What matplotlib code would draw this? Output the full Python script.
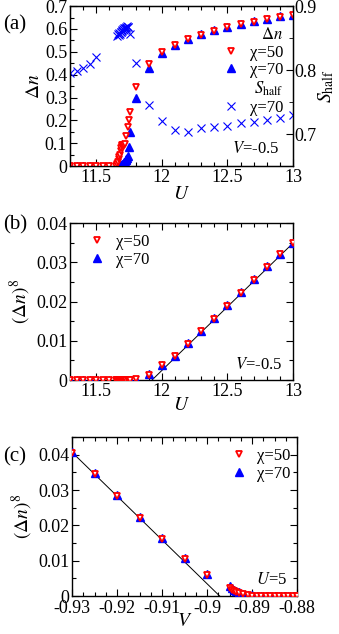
import numpy as np
import matplotlib
matplotlib.use('Agg')
import matplotlib.pyplot as plt
from matplotlib.ticker import MultipleLocator, FuncFormatter

plt.rcParams['font.family'] = 'serif'
plt.rcParams['font.serif'] = ['Liberation Serif', 'DejaVu Serif']
plt.rcParams['mathtext.fontset'] = 'stix'

# ---- (a) Delta n and S_half vs U, V=-0.5 ----
U_50 = [11.3, 11.35, 11.4, 11.45, 11.5, 11.55, 11.6, 11.65,
        11.66, 11.665, 11.67, 11.675, 11.68, 11.685, 11.69, 11.695, 11.7,
        11.705, 11.71, 11.715, 11.72, 11.73, 11.74, 11.75, 11.76,
        11.8, 11.9, 12.0, 12.1, 12.2, 12.3, 12.4, 12.5, 12.6, 12.7, 12.8, 12.9, 13.0]
dn_50 = [0, 0, 0, 0, 0, 0, 0, 0,
         0.01, 0.02, 0.03, 0.04, 0.05, 0.065, 0.08, 0.09, 0.092,
         0.092, 0.092, 0.092, 0.095, 0.13, 0.17, 0.20, 0.235,
         0.345, 0.445, 0.50, 0.53, 0.555, 0.575, 0.592, 0.607, 0.62, 0.632, 0.642, 0.652, 0.66]

U_70 = [11.3, 11.35, 11.4, 11.45, 11.5,
        11.66, 11.665, 11.67, 11.675, 11.68, 11.685, 11.69, 11.695, 11.7,
        11.705, 11.71, 11.715, 11.72, 11.725, 11.73, 11.735, 11.74, 11.75, 11.76,
        11.8, 11.9, 12.0, 12.1, 12.2, 12.3, 12.4, 12.5, 12.6, 12.7, 12.8, 12.9, 13.0]
dn_70 = [0, 0, 0, 0, 0,
         0, 0, 0, 0, 0, 0.002, 0.004, 0.006, 0.008,
         0.01, 0.013, 0.016, 0.02, 0.025, 0.03, 0.037, 0.045, 0.085, 0.15,
         0.30, 0.43, 0.495, 0.53, 0.557, 0.578, 0.595, 0.61, 0.623, 0.634, 0.645, 0.655, 0.662]

U_s = [11.3, 11.35, 11.4, 11.45, 11.5,
       11.66, 11.665, 11.67, 11.675, 11.68, 11.685, 11.69, 11.695, 11.7,
       11.705, 11.71, 11.715, 11.72, 11.725, 11.73, 11.735, 11.74, 11.745, 11.755,
       11.8, 11.9, 12.0, 12.1, 12.2, 12.3, 12.4, 12.5, 12.6, 12.7, 12.8, 12.9, 13.0]
s_half = [0.795, 0.798, 0.803, 0.810, 0.820,
          0.853, 0.856, 0.855, 0.858, 0.857, 0.860, 0.859, 0.862, 0.861,
          0.864, 0.863, 0.866, 0.865, 0.868, 0.866, 0.869, 0.867, 0.868, 0.857,
          0.811, 0.745, 0.720, 0.707, 0.703, 0.709, 0.711, 0.712, 0.717, 0.719, 0.722, 0.725, 0.730]

# ---- (b) (Delta n)^8 vs U ----
dn8_50 = [0, 0, 0, 0, 0, 0, 0, 0,
          0, 0, 0, 0, 0, 0, 0, 0, 0,
          0, 0, 0, 0, 0, 0, 0, 0,
          0.0002, 0.0013, 0.0038, 0.0062, 0.0092, 0.0124, 0.0155, 0.0189, 0.0222, 0.0256, 0.0289, 0.032, 0.0349]
dn8_70 = [0, 0, 0, 0, 0,
          0, 0, 0, 0, 0, 0, 0, 0, 0,
          0, 0, 0, 0, 0, 0, 0, 0, 0, 0,
          0.0001, 0.0016, 0.0037, 0.0062, 0.0094, 0.0125, 0.0157, 0.019, 0.0224, 0.0257, 0.0291, 0.0322, 0.0348]
fit_U = [11.925, 13.0]
fit_b = [0.0, 0.0349]

# ---- (c) (Delta n)^8 vs V, U=5 ----
V_c = [-0.93, -0.925, -0.92, -0.915, -0.91, -0.905, -0.9,
       -0.895, -0.8945, -0.894, -0.8935, -0.893, -0.892, -0.891, -0.89,
       -0.889, -0.888, -0.887, -0.886, -0.885, -0.884, -0.883, -0.882, -0.881, -0.88]
c8_50 = [0.0406, 0.0345, 0.0283, 0.0222, 0.0161, 0.0106, 0.0059,
         0.0022, 0.0018, 0.0014, 0.0011, 0.0008, 0.0005, 0.0003, 0.0001,
         0, 0, 0, 0, 0, 0, 0, 0, 0, 0]
c8_70 = [0.0409, 0.0348, 0.0286, 0.0224, 0.0164, 0.0109, 0.0063,
         0.0027, 0.0022, 0.0017, 0.0013, 0.001, 0.0006, 0.0004, 0.0002,
         0, 0, 0, 0, 0, 0, 0, 0, 0, 0]
fit_V = [-0.93, -0.8972]
fit_c = [0.0407, 0.0]

red = '#ff0000'
blue = '#0000ff'
fs = 13
fmt = FuncFormatter(lambda v, p: '%g' % round(v, 6))


def style(ax, right=True):
    ax.tick_params(which='both', direction='in', top=True, right=right, labelsize=fs, pad=2)
    ax.tick_params(which='major', length=5, width=0.8)
    ax.tick_params(which='minor', length=3, width=0.8)
    for s in ax.spines.values():
        s.set_linewidth(1.0)


def tri_pair(ax, x50, y50, x70, y70):
    ax.plot(x70, y70, ls='none', marker='^', ms=5.2, color=blue, mec=blue, label='χ=70', zorder=3)
    ax.plot(x50, y50, ls='none', marker='v', ms=4.3, mfc='white', mec=red, mew=1.3, label='χ=50', zorder=4)


fig = plt.figure(figsize=(3.39, 6.34), dpi=100)

# (a)
ax1 = fig.add_axes([0.2065, 0.738, 0.658, 0.2524])
ax2 = ax1.twinx()
tri_pair(ax1, U_50, dn_50, U_70, dn_70)
ax2.plot(U_s, s_half, ls='none', marker='x', ms=5.5, mew=0.8, color=blue, label='χ=70')
ax1.set_xlim(11.3, 13)
ax1.set_ylim(0, 0.7)
ax2.set_ylim(0.65, 0.9)
ax1.xaxis.set_major_locator(MultipleLocator(0.5))
ax1.xaxis.set_minor_locator(MultipleLocator(0.1))
ax1.yaxis.set_major_locator(MultipleLocator(0.1))
ax1.yaxis.set_minor_locator(MultipleLocator(0.05))
ax2.yaxis.set_major_locator(MultipleLocator(0.1))
ax2.yaxis.set_minor_locator(MultipleLocator(0.05))
style(ax1, right=False)
ax2.tick_params(which='both', direction='in', labelsize=fs, pad=1)
ax2.tick_params(which='major', length=5)
ax2.tick_params(which='minor', length=3)
for a in (ax1, ax2):
    a.xaxis.set_major_formatter(fmt)
    a.yaxis.set_major_formatter(fmt)
ax1.set_xlabel('$U$', fontsize=fs + 1, labelpad=0)
ax1.set_ylabel(r'$\Delta n$', fontsize=fs + 1, labelpad=1)
ax2.set_ylabel(r'$S_{\rm half}$', fontsize=fs + 1, labelpad=0)
h1, l1 = ax1.get_legend_handles_labels()
leg1 = ax2.legend(h1[::-1], l1[::-1], title=r'$\Delta n$', alignment='right', loc='upper right',
                  bbox_to_anchor=(0.955, 0.87), frameon=False, fontsize=fs - 1, title_fontsize=fs - 1,
                  handlelength=1.0, handletextpad=0.6, labelspacing=0.1, borderpad=0, borderaxespad=0)
ax2.add_artist(leg1)
h2, l2 = ax2.get_legend_handles_labels()
ax2.legend(h2, l2, title=r'$S_{\rm half}$', alignment='right', loc='upper right',
           bbox_to_anchor=(0.955, 0.54), frameon=False, fontsize=fs - 1, title_fontsize=fs - 1,
           handlelength=1.0, handletextpad=0.6, labelspacing=0.1, borderpad=0, borderaxespad=0)
ax1.text(0.94, 0.11, '$V$=-0.5', transform=ax1.transAxes, ha='right', va='center', fontsize=fs - 1)

# (b)
axb = fig.add_axes([0.2065, 0.4006, 0.658, 0.2476])
tri_pair(axb, U_50, dn8_50, U_70, dn8_70)
axb.plot(fit_U, fit_b, color='black', lw=0.7, zorder=2)
axb.set_xlim(11.3, 13)
axb.set_ylim(0, 0.04)
axb.xaxis.set_major_locator(MultipleLocator(0.5))
axb.xaxis.set_minor_locator(MultipleLocator(0.1))
axb.yaxis.set_major_locator(MultipleLocator(0.01))
axb.yaxis.set_minor_locator(MultipleLocator(0.005))
style(axb)
axb.xaxis.set_major_formatter(fmt)
axb.yaxis.set_major_formatter(fmt)
axb.set_xlabel('$U$', fontsize=fs + 1, labelpad=-2)
axb.set_ylabel(r'$(\Delta n)^8$', fontsize=fs + 1, labelpad=2)
hb, lb = axb.get_legend_handles_labels()
axb.legend(hb[::-1], lb[::-1], loc='upper left', bbox_to_anchor=(0.085, 0.93), frameon=False,
           fontsize=fs - 1, handlelength=1.0, handletextpad=0.6, labelspacing=0.1,
           borderpad=0, borderaxespad=0)
axb.text(0.95, 0.095, '$V$=-0.5', transform=axb.transAxes, ha='right', va='center', fontsize=fs - 1)

# (c)
axc = fig.add_axes([0.2124, 0.0599, 0.664, 0.2508])
tri_pair(axc, V_c, c8_50, V_c, c8_70)
axc.plot(fit_V, fit_c, color='black', lw=0.7, zorder=2)
axc.set_xlim(-0.93, -0.88)
axc.set_ylim(0, 0.045)
axc.xaxis.set_major_locator(MultipleLocator(0.01))
axc.xaxis.set_minor_locator(MultipleLocator(0.0025))
axc.yaxis.set_major_locator(MultipleLocator(0.01))
axc.yaxis.set_minor_locator(MultipleLocator(0.005))
style(axc)
axc.tick_params(axis='x', pad=3)
axc.xaxis.set_major_formatter(fmt)
axc.yaxis.set_major_formatter(fmt)
axc.set_xlabel('$V$', fontsize=fs + 1, labelpad=-3)
axc.set_ylabel(r'$(\Delta n)^8$', fontsize=fs + 1, labelpad=2)
hc, lc = axc.get_legend_handles_labels()
axc.legend(hc[::-1], lc[::-1], loc='upper right', bbox_to_anchor=(0.97, 0.93), frameon=False,
           fontsize=fs - 1, handlelength=1.0, handletextpad=0.6, labelspacing=0.1,
           borderpad=0, borderaxespad=0)
axc.text(0.955, 0.10, '$U$=5', transform=axc.transAxes, ha='right', va='center', fontsize=fs - 1)

fig.text(0.01, 1 - 25 / 634, '(a)', fontsize=fs + 2, va='center', ha='left')
fig.text(0.01, 1 - 225 / 634, '(b)', fontsize=fs + 2, va='center', ha='left')
fig.text(0.01, 1 - 457 / 634, '(c)', fontsize=fs + 2, va='center', ha='left')

fig.savefig('out.png', dpi=100)
